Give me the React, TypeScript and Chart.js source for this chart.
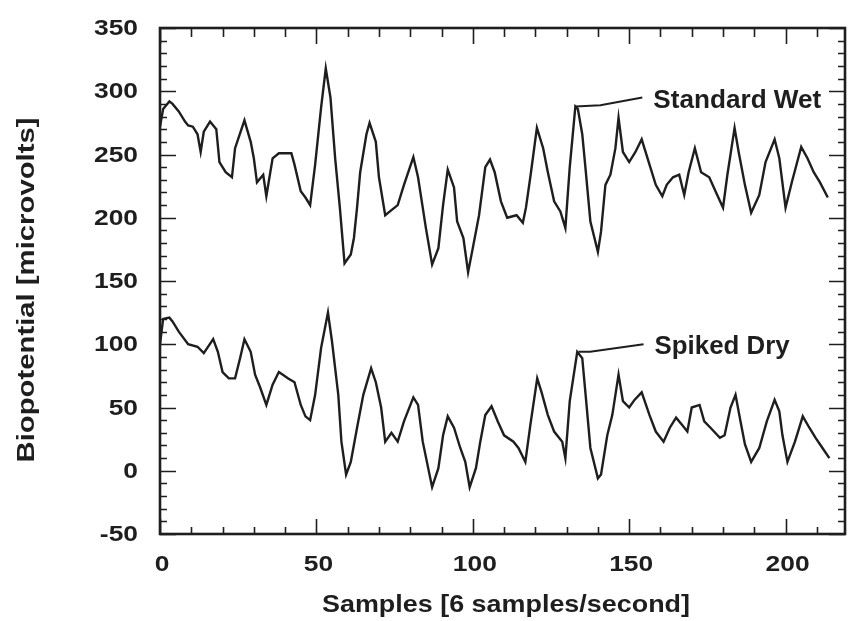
import { useEffect, useRef } from "react";
import { Chart, registerables } from "chart.js";

Chart.register(...registerables);

// Standard Wet trace (sample index, microvolts)
const wetX = [0, 1, 3, 4, 6, 8, 9, 10.5, 12, 13, 14, 16, 18, 19, 21, 23, 24, 27, 29, 30, 31, 33, 34, 36, 38, 42, 43, 45, 46.5, 48, 49.6, 51.5, 53, 54.5, 56, 57.5, 59, 61, 62, 63, 64, 66, 67, 69, 70, 72, 74, 76, 78, 81, 82.5, 85, 87, 89, 90.5, 92, 94, 95, 97, 98.5, 100, 102, 104, 105.5, 107, 109, 111, 114, 116, 117, 118.5, 120.5, 122.5, 124, 126, 128, 129.6, 131, 132.8, 133.6, 135, 136, 137.6, 140, 141, 142.4, 144, 145.6, 146.6, 148, 150, 152, 154, 156.5, 158.5, 160.6, 162, 164, 166, 167.6, 169, 171, 173, 175.6, 177.6, 180, 181.4, 183.7, 185, 187, 189, 191.6, 193.6, 196.5, 198, 200, 202, 205, 207, 209, 211, 213.5];
const wetY = [272, 286, 292, 290, 284, 276, 273, 272, 266, 252, 268, 276, 270, 244, 236, 232, 255, 277, 260, 247, 228, 234, 217, 247, 251, 251, 242, 221, 216, 210, 242, 287, 318, 295, 247, 208, 164, 171, 184, 208, 236, 266, 275, 260, 232, 202, 206, 210, 226, 248, 232, 192, 163, 176, 210, 238, 224, 197, 184, 157, 176, 202, 240, 246, 236, 213, 200, 202, 196, 208, 234, 271, 255, 236, 213, 205, 192, 240, 288, 286, 266, 240, 197, 173, 189, 226, 234, 255, 279, 252, 244, 252, 262, 242, 226, 217, 226, 232, 234, 218, 236, 255, 236, 232, 221, 208, 234, 271, 252, 226, 204, 218, 244, 262, 247, 208, 228, 256, 247, 236, 228, 216];

// Spiked Dry trace (sample index, microvolts)
const dryX = [0, 1, 3, 4, 6, 9, 12, 14, 17, 18.5, 20, 22, 24, 25.6, 27, 29, 30.4, 32, 34, 36, 38, 41, 43, 45, 46.5, 48, 49.6, 51.5, 53.7, 55, 57, 58, 59.5, 61, 63, 65, 67.5, 69, 70.7, 72, 74, 76, 78, 81, 82.5, 84, 87, 89, 90.5, 92, 94, 96, 97.6, 99, 101, 102.4, 104, 106, 108, 110, 113, 114.6, 116.8, 118.4, 120.6, 122, 124, 126, 128.6, 129.6, 131, 133.4, 135, 136, 137.6, 140, 141, 143, 144.6, 146.6, 148, 150, 151.7, 154, 156.5, 158.5, 161, 163, 165, 167, 168.6, 170, 172.5, 174, 176, 179, 180.5, 182.4, 184, 185.6, 187, 189, 191.6, 194, 196.5, 198, 199, 200.6, 203, 205.5, 207.6, 209.6, 211.8, 214];
const dryY = [100, 120, 121, 118, 110, 100, 98, 93, 104, 94, 78, 73, 73, 89, 104, 94, 76, 66, 52, 68, 78, 73, 70, 52, 43, 40, 60, 97, 125, 102, 60, 23, -3, 7, 34, 60, 81, 70, 50, 23, 30, 23, 39, 58, 52, 23, -13, 2, 28, 43, 34, 18, 7, -13, 2, 23, 44, 51, 39, 28, 23, 18, 7, 36, 73, 62, 44, 31, 23, 10, 55, 94, 89, 62, 18, -6, -3, 28, 44, 76, 55, 50, 56, 62, 44, 31, 23, 34, 42, 36, 31, 50, 52, 39, 34, 26, 28, 50, 60, 39, 21, 7, 18, 39, 56, 47, 28, 7, 23, 43, 34, 26, 18, 10];

const xTickValues = [0, 50, 100, 150, 200];
const yTickValues = [-50, 0, 50, 100, 150, 200, 250, 300, 350];
const xTitle = "Samples [6 samples/second]";
const yTitle = "Biopotential [microvolts]";

const wetLabel = "Standard Wet";
const wetLeaderX = [132.8, 140.8, 154.2];
const wetLeaderY = [288, 289, 295];
const dryLabel = "Spiked Dry";
const dryLeaderX = [133.8, 137.5, 154.6];
const dryLeaderY = [94, 94, 100];

const INK = "#1e1e1e";
const FONT = "'Liberation Sans', Arial, Helvetica, sans-serif";

// draws text stretched along its reading direction
function stretchedText(
  ctx: CanvasRenderingContext2D,
  text: string,
  x: number,
  y: number,
  font: string,
  align: "left" | "center" | "right",
  opts: { factor?: number; width?: number; rotate?: boolean }
) {
  ctx.save();
  ctx.font = font;
  ctx.fillStyle = INK;
  ctx.textBaseline = "middle";
  ctx.textAlign = align;
  const w = ctx.measureText(text).width;
  const f = opts.width ? opts.width / w : opts.factor ?? 1;
  ctx.translate(x, y);
  if (opts.rotate) ctx.rotate(-Math.PI / 2);
  ctx.scale(f, 1);
  ctx.fillText(text, 0, 0);
  ctx.restore();
}

export default function App() {
  const ref = useRef<HTMLCanvasElement>(null);

  useEffect(() => {
    document.body.style.margin = "0";
    document.body.style.background = "#ffffff";
    const canvas = ref.current!;

    const framePlugin = {
      id: "frame",
      afterDraw(chart: any) {
        const ctx = chart.ctx as CanvasRenderingContext2D;
        const a = chart.chartArea;
        const xs = chart.scales.x;
        const ys = chart.scales.y;
        ctx.save();
        ctx.strokeStyle = INK;
        ctx.lineWidth = 1.6;
        for (let v = 0; v <= 219; v += 10) {
          const px = Math.round(xs.getPixelForValue(v)) + 0.5;
          const major = v % 50 === 0;
          const lb = major ? 15 : 7;
          const lt = major ? 16 : 9;
          ctx.beginPath();
          ctx.moveTo(px, a.bottom);
          ctx.lineTo(px, a.bottom - lb);
          ctx.moveTo(px, a.top);
          ctx.lineTo(px, a.top + lt);
          ctx.stroke();
        }
        for (let v = -50; v <= 350; v += 10) {
          const py = Math.round(ys.getPixelForValue(v)) + 0.5;
          const major = v % 50 === 0;
          const l = major ? 16 : 7;
          ctx.beginPath();
          ctx.moveTo(a.left, py);
          ctx.lineTo(a.left + l, py);
          ctx.moveTo(a.right, py);
          ctx.lineTo(a.right - l, py);
          ctx.stroke();
        }
        ctx.lineWidth = 2.6;
        ctx.strokeRect(a.left, a.top, a.right - a.left, a.bottom - a.top);

        // tick labels
        const tickFont = `bold 22px ${FONT}`;
        xTickValues.forEach((v) => {
          stretchedText(ctx, String(v), xs.getPixelForValue(v) + 2, 565, tickFont, "center", { factor: 1.2 });
        });
        yTickValues.forEach((v) => {
          stretchedText(ctx, String(v), 138, ys.getPixelForValue(v) + 1, tickFont, "right", { factor: 1.2 });
        });

        // annotations
        const drawLeader = (lx: number[], ly: number[], text: string, width: number) => {
          ctx.lineWidth = 2;
          ctx.beginPath();
          lx.forEach((v, i) => {
            const px = xs.getPixelForValue(v);
            const py = ys.getPixelForValue(ly[i]);
            if (i === 0) ctx.moveTo(px, py);
            else ctx.lineTo(px, py);
          });
          ctx.stroke();
          const last = lx.length - 1;
          stretchedText(
            ctx,
            text,
            xs.getPixelForValue(lx[last]) + 11,
            ys.getPixelForValue(ly[last]) + 3,
            `bold 26px ${FONT}`,
            "left",
            { width }
          );
        };
        drawLeader(wetLeaderX, wetLeaderY, wetLabel, 168);
        drawLeader(dryLeaderX, dryLeaderY, dryLabel, 135);

        // axis titles
        stretchedText(ctx, xTitle, 506, 605, `bold 24px ${FONT}`, "center", { width: 368 });
        stretchedText(ctx, yTitle, 28, 290, `bold 23px ${FONT}`, "center", { width: 345, rotate: true });
        ctx.restore();
      },
    };

    const chart = new Chart(canvas, {
      type: "line",
      data: {
        datasets: [
          {
            label: wetLabel,
            data: wetX.map((x, i) => ({ x, y: wetY[i] })),
            borderColor: INK,
            borderWidth: 2.4,
            pointRadius: 0,
            tension: 0,
            fill: false,
          },
          {
            label: dryLabel,
            data: dryX.map((x, i) => ({ x, y: dryY[i] })),
            borderColor: INK,
            borderWidth: 2.4,
            pointRadius: 0,
            tension: 0,
            fill: false,
          },
        ],
      },
      options: {
        responsive: false,
        animation: false,
        layout: { padding: { top: 28, right: 5, left: 0, bottom: 0 } },
        plugins: {
          legend: { display: false },
          tooltip: { enabled: false },
          title: { display: false },
        },
        scales: {
          x: {
            type: "linear",
            min: 0,
            max: 219,
            grid: { display: false, drawTicks: false },
            border: { display: false },
            ticks: { display: false },
            afterBuildTicks: (scale: any) => {
              scale.ticks = xTickValues.map((value) => ({ value }));
            },
            afterFit: (scale: any) => {
              scale.height = 87;
            },
          },
          y: {
            type: "linear",
            min: -50,
            max: 350,
            grid: { display: false, drawTicks: false },
            border: { display: false },
            ticks: { display: false },
            afterBuildTicks: (scale: any) => {
              scale.ticks = yTickValues.map((value) => ({ value }));
            },
            afterFit: (scale: any) => {
              scale.width = 160;
            },
          },
        },
      },
      plugins: [framePlugin],
    });

    return () => chart.destroy();
  }, []);

  return (
    <div style={{ width: 850, height: 621, background: "#fff" }}>
      <canvas ref={ref} width={850} height={621} style={{ display: "block" }} />
    </div>
  );
}
